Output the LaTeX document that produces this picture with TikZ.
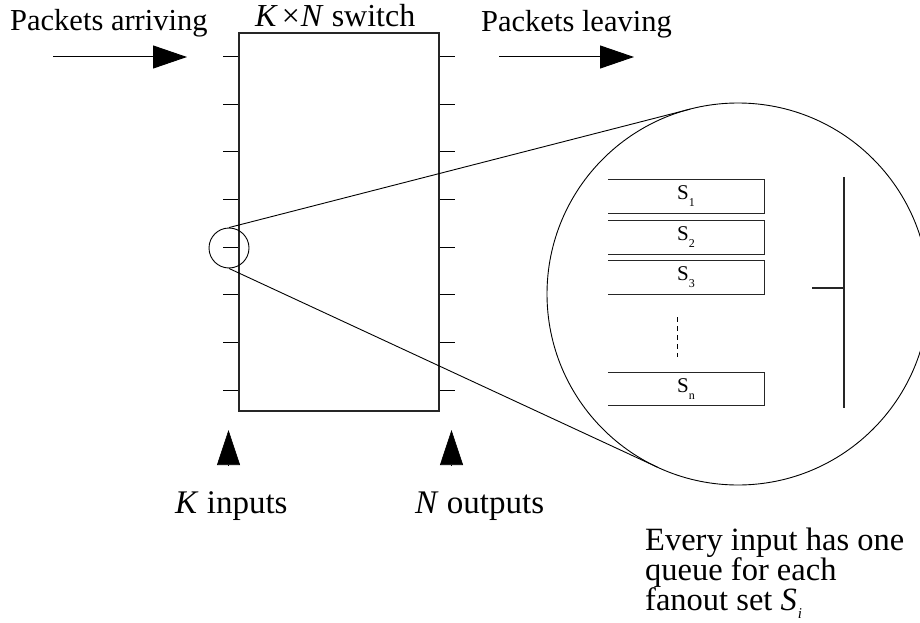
\documentclass[tikz,border=0pt]{standalone}
\usepackage{fontspec}
\setmainfont{Liberation Serif}
\usetikzlibrary{arrows.meta,calc}
\newcommand\qlab[1]{S\raisebox{-7pt}{\fontsize{12}{12}\selectfont #1}}
\begin{document}
\begin{tikzpicture}[x=1pt,y=-1pt,
  toplabel/.style={anchor=base west,inner sep=0pt,font=\fontsize{30.5}{34}\selectfont},
  titlelabel/.style={anchor=base west,inner sep=0pt,font=\fontsize{32}{34}\selectfont},
  botlabel/.style={anchor=base west,inner sep=0pt,font=\fontsize{33}{36}\selectfont},
  paralabel/.style={anchor=base west,inner sep=0pt,font=\fontsize{32.5}{34}\selectfont},
  qbox/.style={minimum width=156pt,minimum height=33pt,inner sep=0pt,font=\fontsize{21}{21}\selectfont},
  qedge/.style={line width=1.1pt,draw=black!85},
  thin/.style={line width=0.9pt},
  flow/.style={line width=1pt,-{Triangle[length=34pt,width=23pt]}},
  uparrow/.style={line width=0.6pt,-{Triangle[length=35pt,width=23pt]}}]
\useasboundingbox (0,0) rectangle (920,623);
\clip (0,0) rectangle (920,623);
% switch box
\node[draw=black!85,line width=1.1pt,minimum width=200pt,minimum height=378pt,inner sep=0pt] (sw) at (339,222) {};
% ticks
\foreach \k in {0,...,7}{
  \draw[line width=1pt] ($(sw.north west)+(-15,57-33+47.7*\k)$) -- ($(sw.north west)+(0,57-33+47.7*\k)$);
  \draw[line width=1pt] ($(sw.north east)+(0,57-33+47.7*\k)$) -- ($(sw.north east)+(15,57-33+47.7*\k)$);
}
% labels
\node[toplabel] (arr) at (10,31) {Packets arriving};
\node[titlelabel] (title) at (255,27) {\textit{K}\hspace{4pt}×\hspace{1pt}\textit{N} switch};
\node[toplabel] (leave) at (481,32) {Packets leaving};
\node[botlabel] (kin) at (175,513) {\textit{K} inputs};
\node[botlabel] (nout) at (415,513) {\textit{N} outputs};
\node[paralabel] (p1) at (645,550) {Every input has one};
\node[paralabel] (p2) at (645,580) {queue for each};
\node[paralabel] (p3) at (645,610) {fanout set \textit{S}\hspace{1pt}\raisebox{-8pt}{\fontsize{15}{15}\selectfont\textit{i}}};
% flow arrows
\coordinate (a0) at (53,57); \coordinate (a1) at (187,57);
\coordinate (l0) at (499,57); \coordinate (l1) at (634,57);
\draw[flow] (a0) -- (a1);
\draw[flow] (l0) -- (l1);
\coordinate (u0) at (228.5,465); \coordinate (u1) at (228.5,430);
\coordinate (v0) at (451.5,465); \coordinate (v1) at (451.5,430);
\draw[uparrow] (u0) -- (u1);
\draw[uparrow] (v0) -- (v1);
% magnifier
\node[draw,thin,circle,minimum size=40pt,inner sep=0pt] (small) at (229,248) {};
\node[draw,thin,circle,minimum size=382pt,inner sep=0pt] (big) at (738,294) {};
\coordinate (t1) at (690.3,109.1);
\coordinate (t2) at (657.5,467.2);
\draw[thin] (small.north) -- (t1);
\draw[thin] (small.south) -- (t2);
% queues
\node[qbox] (q1) at (686,196.5) {\qlab{1}};
\node[qbox] (q2) at (686,237.5) {\qlab{2}};
\node[qbox] (q3) at (686,277.5) {\qlab{3}};
\node[qbox] (qn) at (686,389) {\qlab{n}};
\foreach \q in {q1,q2,q3,qn}{
  \draw[qedge] (\q.north west) -- (\q.north east) -- (\q.south east) -- (\q.south west);
}
\draw[line width=0.9pt,dashed,dash pattern=on 5pt off 4pt] (677,317) -- (677,357);
% output bus
\coordinate (b0) at (844,177); \coordinate (b1) at (844,408);
\coordinate (bt) at (812,288); \coordinate (bm) at (844,288);
\draw[qedge] (b0) -- (b1);
\draw[qedge] (bt) -- (bm);
\end{tikzpicture}
\end{document}
